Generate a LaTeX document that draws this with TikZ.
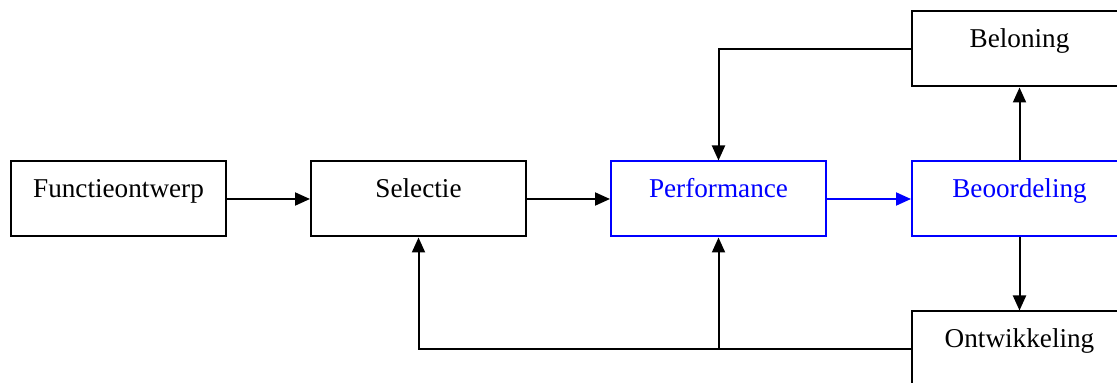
\documentclass[tikz,border=0pt]{standalone}
\usepackage{fontspec}
\setmainfont{Liberation Serif}
\usetikzlibrary{arrows.meta}
\definecolor{pblue}{RGB}{0,0,255}
\begin{document}
\begin{tikzpicture}[x=0.5pt,y=-0.5pt,
  box/.style={draw=black,line width=1pt,minimum width=107.5pt,inner sep=0pt,
    text height=18pt,text depth=19.5pt,font=\fontsize{13.6}{16}\selectfont},
  bluebox/.style={box,draw=pblue,text=pblue},
  conn/.style={line width=1pt,-{Triangle[length=7.5pt,width=6.5pt]}},
  bconn/.style={conn,draw=pblue,-{Triangle[length=7.5pt,width=6.5pt,fill=pblue]}}]
\useasboundingbox (0,0) rectangle (1117,383);
\begin{scope}
\clip (0,0) rectangle (1117,383);
\node[box] (f) at (118.5,199) {Functieontwerp};
\node[box] (s) at (418.5,199) {Selectie};
\node[bluebox] (p) at (718.5,199) {Performance};
\node[bluebox] (b) at (1019.5,199) {Beoordeling};
\node[box] (bel) at (1019.5,49) {Beloning};
\node[box] (o) at (1019.5,349) {Ontwikkeling};
\draw[conn] (f) -- (s);
\draw[conn] (s) -- (p);
\draw[bconn] (p) -- (b);
\draw[conn] (b) -- (bel);
\draw[conn] (b) -- (o);
\draw[conn] (bel.west) -| (p.north);
\draw[conn] (o.west) -| (p.south);
\draw[conn] (o.west) -| (s.south);
\end{scope}
\end{tikzpicture}
\end{document}
